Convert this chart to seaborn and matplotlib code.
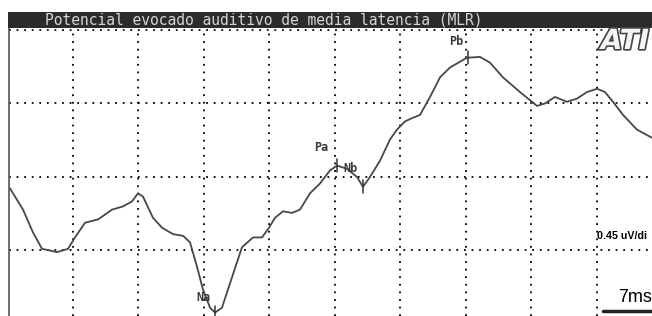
import numpy as np
import pandas as pd
import matplotlib
matplotlib.use("Agg")
import matplotlib.pyplot as plt
import matplotlib.patheffects as pe
import seaborn as sns

# latency (ms) and amplitude (uV)
time_ms = [0.26, 1.65, 2.72, 3.68, 4.53, 5.28, 6.46, 7.21, 8.28, 9.67, 11.17, 12.34,
           13.30, 13.95, 14.48, 15.55, 16.51, 17.69, 18.76, 19.51, 20.26, 20.90, 21.65,
           22.18, 22.93, 23.79, 25.07, 26.25, 27.21, 27.96, 28.60, 29.45, 30.42, 31.27,
           32.34, 33.41, 34.48, 35.23, 36.30, 37.37, 38.01, 38.76, 39.83, 40.90, 41.65,
           42.50, 43.25, 44.11, 45.18, 46.25, 47.31, 49.13, 50.52, 51.59, 52.98, 54.80,
           55.87, 56.62, 57.47, 58.54, 59.83, 60.90, 61.97, 63.04, 63.89, 64.75, 65.82,
           67.31, 68.92]
amp_uv = [-0.07, -0.20, -0.34, -0.44, -0.45, -0.46, -0.44, -0.37, -0.28, -0.26, -0.20, -0.18,
          -0.15, -0.10, -0.12, -0.25, -0.31, -0.35, -0.36, -0.40, -0.55, -0.69, -0.80,
          -0.83, -0.80, -0.65, -0.43, -0.37, -0.37, -0.31, -0.25, -0.21, -0.22, -0.20,
          -0.10, -0.04, 0.04, 0.07, 0.05, 0.00, -0.06, 0.00, 0.10, 0.23, 0.29,
          0.34, 0.36, 0.38, 0.49, 0.61, 0.67, 0.73, 0.735, 0.70, 0.61, 0.52,
          0.47, 0.435, 0.45, 0.49, 0.46, 0.48, 0.52, 0.54, 0.52, 0.46, 0.38,
          0.29, 0.24]

peak_names = ["Na", "Pa", "Nb", "Pb"]
peak_time = [22.18, 35.23, 38.01, 49.25]
peak_amp = [-0.83, 0.07, -0.06, 0.73]
label_time = [20.9, 33.5, 36.7, 48.0]
label_amp = [-0.735, 0.18, 0.05, 0.83]

title = "Potencial evocado auditivo de media latencia (MLR)"
grid_x = [7, 14, 21, 28, 35, 42, 49, 56, 63]
grid_y = [-0.45, 0.0, 0.45, 0.9]

df = pd.DataFrame({"t": time_ms, "a": amp_uv})

sns.set_theme(style="white")
fig = plt.figure(figsize=(6.52, 3.16), dpi=100)
ax = fig.add_axes([9 / 652, 0, 643 / 652, 288 / 316])

for gx in grid_x:
    ax.axvline(gx, color="black", lw=1.3, ls=(0, (1, 3.2)), zorder=1)
for gy in grid_y:
    ax.axhline(gy, color="black", lw=1.3, ls=(0, (1, 3.2)), zorder=1)

sns.lineplot(data=df, x="t", y="a", ax=ax, color="#474747", lw=1.3, zorder=3)

for name, pt, pa, lt, la in zip(peak_names, peak_time, peak_amp, label_time, label_amp):
    ax.plot([pt, pt], [pa - 0.04, pa + 0.04], color="#333333", lw=1.1, zorder=4)
    ax.text(lt, la, name, ha="center", va="center", fontsize=8.5, fontweight="bold",
            family="DejaVu Sans Mono", color="#3a3a3a", zorder=5)

ax.set_xlim(0.15, 68.92)
ax.set_ylim(-0.851, 0.912)
ax.set_xlabel("")
ax.set_ylabel("")
ax.set_xticks([])
ax.set_yticks([])
for side in ["top", "right", "bottom"]:
    ax.spines[side].set_visible(False)
ax.spines["left"].set_color("#555555")
ax.spines["left"].set_linewidth(1.2)

# title bar
bar = plt.Rectangle((8 / 652, 288 / 316), 644 / 652, 16 / 316, transform=fig.transFigure,
                    facecolor="#2b2b2b", edgecolor="none", zorder=10)
fig.add_artist(bar)
fig.text(45 / 652, 296 / 316, title, ha="left", va="center", fontsize=10.5,
         family="DejaVu Sans Mono", color="#d6d6d6", zorder=11)

# logo
fig.text(649 / 652, 275 / 316, "ATI", ha="right", va="center", fontsize=20,
         fontweight="bold", style="italic", family="DejaVu Sans", color="#f4f4f4",
         path_effects=[pe.withStroke(linewidth=2.4, foreground="#444444")], zorder=11)

# scale labels
fig.text(597 / 652, 80 / 316, "0.45 uV/di", ha="left", va="center", fontsize=7.7,
         fontweight="bold", family="Liberation Sans", color="black")
fig.text(618 / 652, 19 / 316, "7ms", ha="left", va="center", fontsize=13,
         family="Liberation Sans", color="black")
fig.add_artist(plt.Line2D([603 / 652, 1], [5 / 316, 5 / 316], transform=fig.transFigure,
                          color="#222222", lw=2.5))

fig.savefig("out.png", dpi=100)
